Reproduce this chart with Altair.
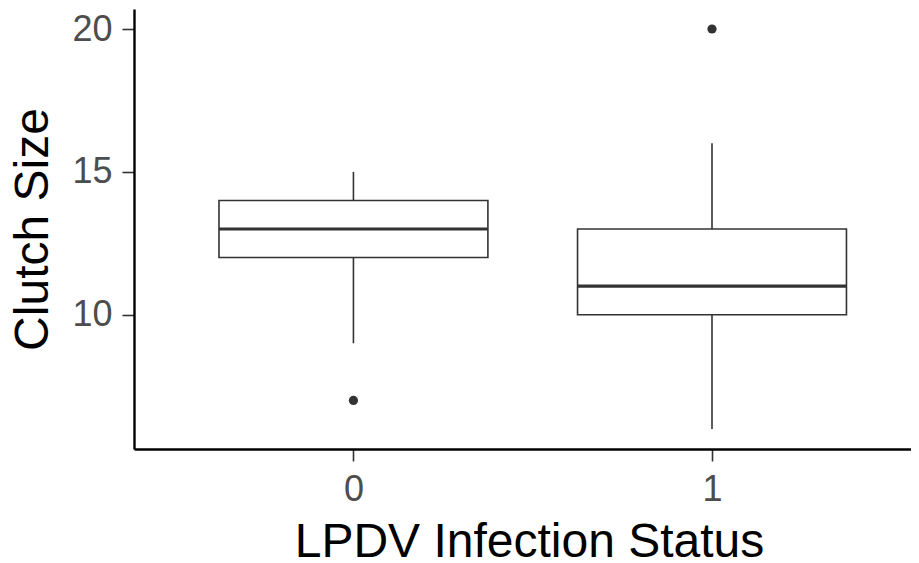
import altair as alt
import pandas as pd

# Box statistics per group
groups = [0, 1]
lower_whisker = [9, 6]
q1 = [12, 10]
median = [13, 11]
q3 = [14, 13]
upper_whisker = [15, 16]

# Outliers
outlier_group = [0, 1]
outlier_value = [7, 20]

x_ticks = [0, 1]
y_ticks = [10, 15, 20]

box_df = pd.DataFrame({
    "group": groups,
    "lower": lower_whisker,
    "q1": q1,
    "median": median,
    "q3": q3,
    "upper": upper_whisker,
})
out_df = pd.DataFrame({"group": outlier_group, "value": outlier_value})

FONT = "Liberation Sans"
x_scale = alt.Scale(domain=[-0.612, 1.555], nice=False, zero=False)
y_scale = alt.Scale(domain=[5.3, 20.7], nice=False, zero=False)

x_axis = alt.Axis(values=x_ticks, format="d", grid=False, tickColor="#333333",
                  tickSize=12, tickWidth=1.6, domainColor="black", domainWidth=2.4,
                  labelColor="#4D4D4D", labelFontSize=36, labelFont=FONT,
                  labelPadding=11, titleFontSize=48, titleFont=FONT,
                  titleFontWeight="normal", titleColor="black", titlePadding=11,
                  titleX=395)
y_axis = alt.Axis(values=y_ticks, format="d", grid=False, tickColor="#333333",
                  tickSize=12, tickWidth=1.6, domainColor="black", domainWidth=2.4,
                  labelColor="#4D4D4D", labelFontSize=36, labelFont=FONT,
                  labelPadding=10, titleFontSize=48, titleFont=FONT,
                  titleFontWeight="normal", titleColor="black", titlePadding=14)

XT = "LPDV Infection Status"
YT = "Clutch Size"

base = alt.Chart(box_df).transform_calculate(
    left="datum.group - 0.375", right="datum.group + 0.375"
)

whisker_lo = base.mark_rule(color="#333333", strokeWidth=1.6).encode(
    x=alt.X("group:Q", scale=x_scale, axis=x_axis, title=XT),
    y=alt.Y("lower:Q", scale=y_scale, axis=y_axis, title=YT),
    y2="q1:Q",
)
whisker_hi = base.mark_rule(color="#333333", strokeWidth=1.6).encode(
    x=alt.X("group:Q", scale=x_scale, axis=x_axis, title=XT),
    y=alt.Y("q3:Q", scale=y_scale, axis=y_axis, title=YT),
    y2="upper:Q",
)
box = base.mark_rect(fill="white", stroke="#333333", strokeWidth=1.6).encode(
    x=alt.X("left:Q", scale=x_scale, axis=x_axis, title=XT),
    x2="right:Q",
    y=alt.Y("q1:Q", scale=y_scale, axis=y_axis, title=YT),
    y2="q3:Q",
)
med = base.mark_rule(color="#333333", strokeWidth=3.2).encode(
    x=alt.X("left:Q", scale=x_scale, axis=x_axis, title=XT),
    x2="right:Q",
    y=alt.Y("median:Q", scale=y_scale, axis=y_axis, title=YT),
)
points = alt.Chart(out_df).mark_circle(size=85, color="#333333", opacity=1).encode(
    x=alt.X("group:Q", scale=x_scale, axis=x_axis, title=XT),
    y=alt.Y("value:Q", scale=y_scale, axis=y_axis, title=YT),
)

chart = alt.layer(whisker_lo, whisker_hi, box, med, points).properties(
    width=777,
    height=440,
    autosize=alt.AutoSizeParams(type="none"),
    padding={"left": 126, "top": 1, "right": 0, "bottom": 114},
    background="white",
).configure_view(stroke=None)

chart.save("out.html", embed_options={"renderer": "svg", "actions": False})
